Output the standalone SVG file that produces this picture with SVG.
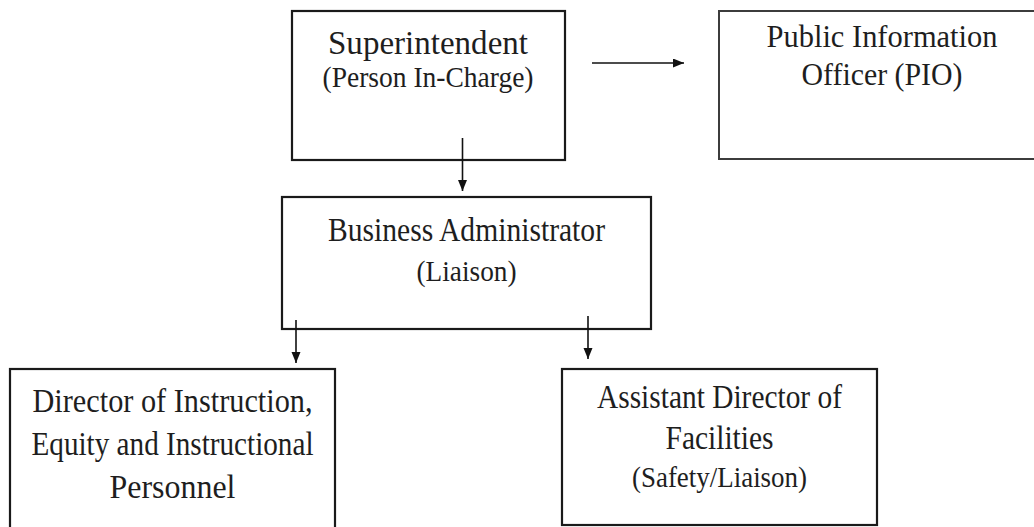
<svg xmlns="http://www.w3.org/2000/svg" width="1034" height="527" viewBox="0 0 1034 527">
  <style>
    .box { fill: #ffffff; stroke: #1a1a1a; stroke-width: 2.2; }
    .box2 { fill: #ffffff; stroke: #3c3c3c; stroke-width: 2; }
    .t { font-family: "Liberation Serif", "Times New Roman", serif; fill: #1e1e1e; text-anchor: middle; }
    .conn { stroke: #111111; stroke-width: 1.6; fill: none; }
  </style>
  <defs>
    <marker id="ah" markerUnits="userSpaceOnUse" markerWidth="12" markerHeight="10" refX="11" refY="4.5" orient="auto">
      <path d="M0,0 L11,4.5 L0,9 Z" fill="#111111"/>
    </marker>
  </defs>
  <rect width="1034" height="527" fill="#ffffff"/>

  <g id="superintendent">
    <rect class="box" x="292" y="11" width="273" height="149"/>
    <text class="t" x="428" y="54" font-size="34" textLength="200" lengthAdjust="spacingAndGlyphs">Superintendent</text>
    <text class="t" x="428" y="87" font-size="29" textLength="211" lengthAdjust="spacingAndGlyphs">(Person In-Charge)</text>
  </g>

  <g id="pio">
    <rect class="box2" x="719" y="11" width="330" height="148"/>
    <text class="t" x="882" y="47" font-size="32" textLength="231" lengthAdjust="spacingAndGlyphs">Public Information</text>
    <text class="t" x="882" y="85" font-size="32" textLength="161" lengthAdjust="spacingAndGlyphs">Officer (PIO)</text>
  </g>

  <g id="business-administrator">
    <rect class="box" x="282" y="197" width="369" height="132"/>
    <text class="t" x="466.5" y="241" font-size="34" textLength="277" lengthAdjust="spacingAndGlyphs">Business Administrator</text>
    <text class="t" x="466.5" y="281" font-size="29" textLength="100" lengthAdjust="spacingAndGlyphs">(Liaison)</text>
  </g>

  <g id="director-instruction">
    <rect class="box" x="10" y="369" width="325" height="175"/>
    <text class="t" x="172.5" y="412" font-size="34" textLength="280" lengthAdjust="spacingAndGlyphs">Director of Instruction,</text>
    <text class="t" x="172.5" y="455" font-size="34" textLength="282" lengthAdjust="spacingAndGlyphs">Equity and Instructional</text>
    <text class="t" x="172.5" y="498" font-size="34" textLength="126" lengthAdjust="spacingAndGlyphs">Personnel</text>
  </g>

  <g id="assistant-director-facilities">
    <rect class="box" x="562" y="369" width="315" height="156"/>
    <text class="t" x="719.5" y="408" font-size="33" textLength="245" lengthAdjust="spacingAndGlyphs">Assistant Director of</text>
    <text class="t" x="719.5" y="449" font-size="33" textLength="108" lengthAdjust="spacingAndGlyphs">Facilities</text>
    <text class="t" x="719.5" y="487" font-size="29" textLength="175" lengthAdjust="spacingAndGlyphs">(Safety/Liaison)</text>
  </g>

  <g id="connectors">
    <line class="conn" x1="592" y1="63" x2="684" y2="63" marker-end="url(#ah)"/>
    <line class="conn" x1="462.5" y1="138" x2="462.5" y2="191" marker-end="url(#ah)"/>
    <line class="conn" x1="296" y1="320" x2="296" y2="363" marker-end="url(#ah)"/>
    <line class="conn" x1="588" y1="316" x2="588" y2="359" marker-end="url(#ah)"/>
  </g>
</svg>
